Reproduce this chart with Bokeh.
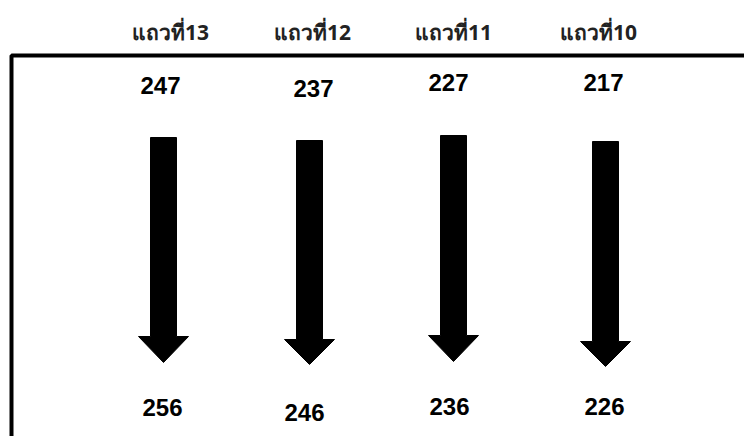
from bokeh.plotting import figure
from bokeh.models import Range1d, ColumnDataSource
from bokeh.core.properties import value
from bokeh.embed import file_html
from bokeh.resources import INLINE

# ---- data ----
headers = ["แถวที่13", "แถวที่12", "แถวที่11", "แถวที่10"]
top_values = [247, 237, 227, 217]
bottom_values = [256, 246, 236, 226]

# ---- layout (screen-pixel coordinates) ----
W, H = 744, 436
header_x = [170, 312, 453, 598]
header_y = 31
top_x = [160, 313, 448, 603]
top_y = [85, 88, 82, 82]
bottom_x = [162, 304, 449, 604]
bottom_y = [407, 412, 406, 406]
arrow_x = [163, 309, 453, 605]
shaft_top = [137, 140, 135, 141]
head_top = [336, 339, 335, 341]
tip_y = [362, 364, 361, 366]
shaft_half, head_half = 13, 25

p = figure(width=W, height=H, output_backend="svg", toolbar_location=None,
           x_range=Range1d(0, W), y_range=Range1d(H, 0),
           min_border=0, outline_line_color=None)
p.axis.visible = False
p.grid.visible = False
p.background_fill_color = "white"
p.border_fill_color = "white"

# frame (left and top edges)
p.line(x=[11, 11, W], y=[H, 55, 55], line_color="black", line_width=4)

# arrows
xs, ys = [], []
for c, st, ht, tp in zip(arrow_x, shaft_top, head_top, tip_y):
    xs.append([c - shaft_half, c + shaft_half, c + shaft_half, c + head_half, c,
               c - head_half, c - shaft_half])
    ys.append([st, st, ht, ht, tp, ht, ht])
p.patches(xs=xs, ys=ys, fill_color="black", line_color="black", line_width=1)

hdr = ColumnDataSource(dict(x=header_x, y=[header_y] * len(headers), t=headers))
p.text(x="x", y="y", text="t", source=hdr, text_align="center", text_baseline="middle",
       text_font=value("Noto Sans"), text_font_size="21px", text_font_style="bold",
       text_color="#222222")

tv = ColumnDataSource(dict(x=top_x, y=top_y, t=[str(v) for v in top_values]))
p.text(x="x", y="y", text="t", source=tv, text_align="center", text_baseline="middle",
       text_font=value("Liberation Sans"), text_font_size="24px", text_font_style="bold",
       text_color="black")

bv = ColumnDataSource(dict(x=bottom_x, y=bottom_y, t=[str(v) for v in bottom_values]))
p.text(x="x", y="y", text="t", source=bv, text_align="center", text_baseline="middle",
       text_font=value("Liberation Sans"), text_font_size="24px", text_font_style="bold",
       text_color="black")

open("out.html", "w").write(file_html(p, INLINE))
